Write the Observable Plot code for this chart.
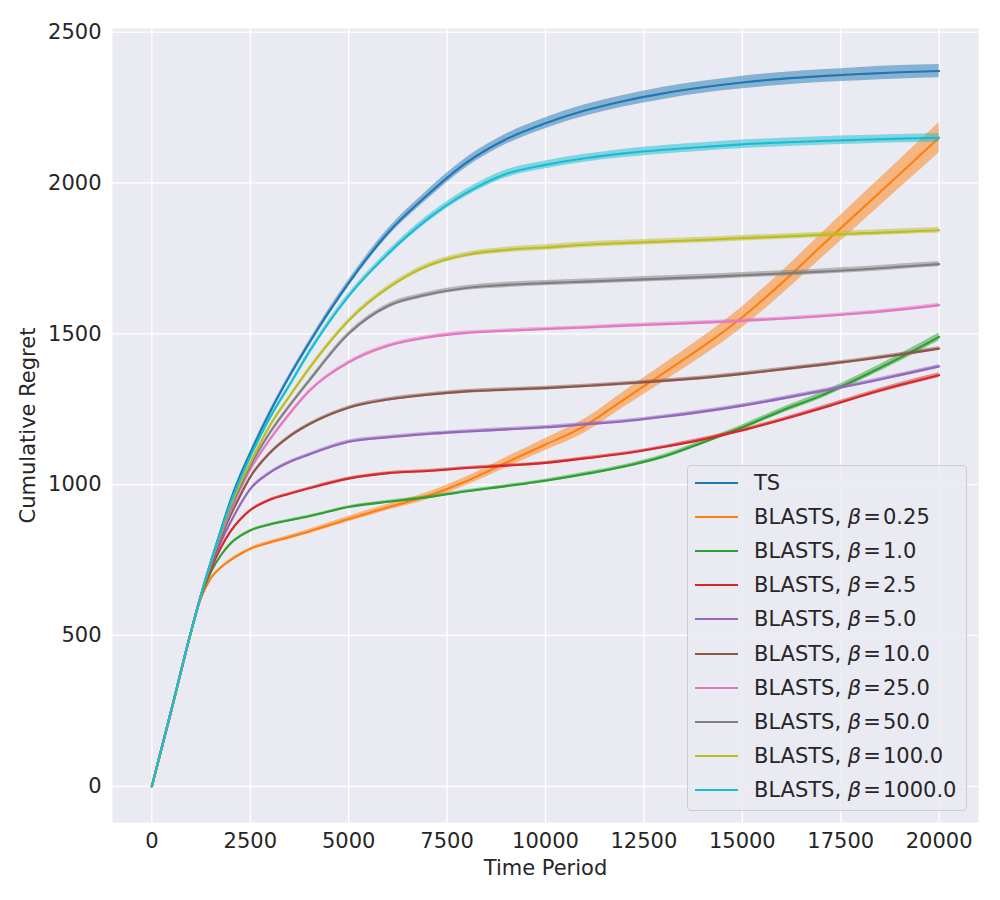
<!DOCTYPE html>
<html>
<head>
<meta charset="utf-8">
<script src="https://cdn.jsdelivr.net/npm/d3@7"></script>
<script src="https://cdn.jsdelivr.net/npm/@observablehq/plot@0.6"></script>
<style>
  html, body { margin: 0; padding: 0; background: white; }
  #wrap { position: relative; width: 1000px; height: 900px; font-family: "DejaVu Sans", sans-serif; color: #262626; }
  #legend { position: absolute; left: 687px; top: 465px; width: 280px; height: 346px; box-sizing: border-box;
    background: rgba(234,234,242,0.85); border: 1px solid #cccccc; border-radius: 4px; }
  .row { position: absolute; left: 0; height: 34px; display: flex; align-items: center; font-size: 21px; white-space: nowrap; }
  .swatch { position: absolute; left: 7px; width: 43px; height: 2px; }
  .lab { position: absolute; left: 66px; }
</style>
</head>
<body>
<div id="wrap"><div id="chart"></div><div id="legend"></div></div>
<script>
// ---- data ----
const timePeriods = [0, 500, 1000, 1250, 1500, 1750, 2000, 2250, 2500, 3000, 3500, 4000, 5000, 6000, 7000, 8000, 9000, 10000, 11000, 12000, 13000, 14000, 15000, 16000, 17000, 18000, 19000, 20000];

const seriesNames = ["TS", "BLASTS, β = 0.25", "BLASTS, β = 1.0", "BLASTS, β = 2.5", "BLASTS, β = 5.0",
  "BLASTS, β = 10.0", "BLASTS, β = 25.0", "BLASTS, β = 50.0", "BLASTS, β = 100.0", "BLASTS, β = 1000.0"];
const betaLabels = [null, "0.25", "1.0", "2.5", "5.0", "10.0", "25.0", "50.0", "100.0", "1000.0"];
const seriesColors = ["#1f77b4", "#ff7f0e", "#2ca02c", "#d62728", "#9467bd", "#8c564b", "#e377c2", "#7f7f7f", "#bcbd22", "#17becf"];

const regretTS     = [0, 255, 515, 635, 745, 848, 948, 1032, 1105, 1240, 1360, 1470, 1668, 1835, 1960, 2068, 2145, 2198, 2240, 2272, 2297, 2317, 2333, 2345, 2354, 2361, 2367, 2371];
const regretB0_25  = [0, 255, 515, 625, 690, 725, 750, 770, 787, 808, 826, 845, 886, 925, 962, 1012, 1073, 1133, 1195, 1283, 1370, 1458, 1555, 1668, 1790, 1910, 2030, 2150];
const regretB1     = [0, 255, 515, 630, 710, 765, 805, 830, 848, 868, 882, 895, 926, 943, 958, 978, 995, 1013, 1035, 1060, 1093, 1140, 1190, 1245, 1295, 1355, 1420, 1490];
const regretB2_5   = [0, 255, 515, 632, 720, 790, 845, 885, 915, 950, 970, 988, 1020, 1038, 1045, 1055, 1063, 1072, 1087, 1103, 1125, 1150, 1180, 1215, 1253, 1293, 1330, 1363];
const regretB5     = [0, 255, 515, 633, 728, 808, 875, 935, 985, 1040, 1075, 1100, 1142, 1157, 1168, 1176, 1183, 1190, 1200, 1210, 1225, 1242, 1262, 1285, 1310, 1335, 1363, 1392];
const regretB10    = [0, 255, 515, 634, 735, 822, 898, 965, 1025, 1105, 1160, 1200, 1255, 1282, 1298, 1309, 1315, 1320, 1327, 1335, 1344, 1354, 1367, 1382, 1397, 1413, 1431, 1451];
const regretB25    = [0, 255, 515, 635, 740, 830, 912, 985, 1050, 1150, 1235, 1310, 1405, 1460, 1488, 1503, 1510, 1516, 1521, 1527, 1532, 1537, 1543, 1550, 1558, 1568, 1580, 1595];
const regretB50    = [0, 255, 515, 635, 742, 836, 922, 995, 1062, 1172, 1262, 1345, 1500, 1592, 1630, 1652, 1662, 1668, 1673, 1678, 1683, 1688, 1694, 1700, 1706, 1713, 1722, 1731];
const regretB100   = [0, 255, 515, 635, 743, 840, 930, 1005, 1072, 1195, 1293, 1385, 1543, 1652, 1725, 1762, 1778, 1786, 1795, 1801, 1806, 1811, 1817, 1822, 1828, 1833, 1838, 1843];
const regretB1000  = [0, 255, 515, 635, 744, 845, 940, 1020, 1092, 1222, 1330, 1440, 1625, 1765, 1880, 1968, 2030, 2060, 2082, 2098, 2110, 2119, 2128, 2134, 2139, 2143, 2147, 2150];

// half-width of the confidence band
const bandTS     = [0, 1, 2, 3, 4, 4, 5, 5, 6, 7, 8, 9, 11, 13, 15, 16, 17, 18, 19, 19, 20, 20, 21, 21, 21, 22, 22, 22];
const bandB0_25  = [0, 1, 1, 2, 3, 3, 4, 4, 5, 6, 6, 7, 9, 10, 12, 14, 17, 20, 23, 26, 29, 32, 35, 38, 41, 44, 47, 50];
const bandB1     = [0, 1, 1, 2, 2, 2, 3, 3, 3, 4, 4, 4, 4, 5, 5, 5, 5, 5, 6, 6, 7, 7, 8, 9, 10, 11, 12, 13];
const bandB2_5   = [0, 1, 1, 2, 2, 2, 3, 3, 3, 4, 4, 4, 5, 5, 5, 5, 5, 5, 5, 5, 5, 6, 6, 6, 7, 7, 8, 8];
const bandB5     = [0, 1, 1, 2, 2, 2, 3, 3, 4, 4, 5, 5, 6, 6, 6, 6, 6, 6, 6, 6, 6, 6, 6, 6, 6, 6, 6, 6];
const bandB10    = [0, 1, 1, 2, 2, 2, 3, 3, 4, 4, 5, 5, 6, 6, 6, 6, 6, 6, 6, 6, 6, 6, 6, 6, 6, 6, 6, 6];
const bandB25    = [0, 1, 1, 2, 2, 2, 3, 3, 4, 4, 5, 5, 6, 6, 6, 6, 6, 6, 6, 6, 6, 6, 6, 6, 6, 6, 6, 6];
const bandB50    = [0, 1, 1, 2, 2, 2, 3, 3, 4, 5, 5, 6, 7, 8, 8, 8, 9, 9, 9, 9, 9, 9, 9, 9, 9, 9, 9, 9];
const bandB100   = [0, 1, 1, 2, 2, 2, 3, 3, 4, 5, 5, 6, 7, 8, 8, 8, 9, 9, 9, 9, 9, 9, 9, 9, 9, 9, 9, 9];
const bandB1000  = [0, 1, 2, 3, 3, 3, 4, 4, 5, 6, 7, 8, 9, 10, 11, 12, 13, 13, 13, 14, 14, 14, 14, 14, 14, 14, 14, 14];

const xTicks = [0, 2500, 5000, 7500, 10000, 12500, 15000, 17500, 20000];
const yTicks = [0, 500, 1000, 1500, 2000, 2500];

const seriesValues = [regretTS, regretB0_25, regretB1, regretB2_5, regretB5, regretB10, regretB25, regretB50, regretB100, regretB1000];
const seriesBands  = [bandTS, bandB0_25, bandB1, bandB2_5, bandB5, bandB10, bandB25, bandB50, bandB100, bandB1000];

const rows = [];
seriesNames.forEach((name, i) => {
  timePeriods.forEach((t, j) => {
    const v = seriesValues[i][j], b = seriesBands[i][j];
    rows.push({series: name, idx: i, t, v, lo: v - b, hi: v + b});
  });
});

const curve = "monotone-x";
const seriesMarks = [];
seriesNames.forEach((name, i) => {
  const d = rows.filter(r => r.idx === i);
  seriesMarks.push(Plot.areaY(d, {x: "t", y1: "lo", y2: "hi", fill: seriesColors[i], fillOpacity: 0.5, curve}));
  seriesMarks.push(Plot.lineY(d, {x: "t", y: "v", stroke: seriesColors[i], strokeWidth: 2.1, curve}));
});

const chart = Plot.plot({
  width: 1000,
  height: 900,
  marginLeft: 112,
  marginRight: 22,
  marginTop: 28,
  marginBottom: 78,
  style: {background: "white", fontFamily: "DejaVu Sans, sans-serif", fontSize: "21px", color: "#262626"},
  x: {domain: [-1000, 21000]},
  y: {domain: [-120, 2512]},
  marks: [
    Plot.frame({fill: "#eaeaf2", stroke: null}),
    Plot.gridX(xTicks, {stroke: "white", strokeOpacity: 1, strokeWidth: 1.3}),
    Plot.gridY(yTicks, {stroke: "white", strokeOpacity: 1, strokeWidth: 1.3}),
    Plot.axisX(xTicks, {tickSize: 0, tickPadding: 11, fontSize: 21, tickFormat: d => String(d),
      label: "Time Period", labelAnchor: "center", labelArrow: "none", labelOffset: 52}),
    Plot.axisY(yTicks, {tickSize: 0, tickPadding: 11, fontSize: 21, tickFormat: d => String(d),
      label: "Cumulative Regret", labelAnchor: "center", labelArrow: "none", labelOffset: 92}),
    ...seriesMarks
  ]
});
document.getElementById("chart").appendChild(chart);

// legend
const legend = document.getElementById("legend");
seriesNames.forEach((name, i) => {
  const row = document.createElement("div");
  row.className = "row";
  row.style.top = (0 + i * 34.1) + "px";
  const sw = document.createElement("div");
  sw.className = "swatch";
  sw.style.background = seriesColors[i];
  const lab = document.createElement("div");
  lab.className = "lab";
  if (betaLabels[i] === null) {
    lab.textContent = name;
  } else {
    lab.innerHTML = "BLASTS, <span style='font-style:italic'>β</span>&#8202;=&#8202;" + betaLabels[i];
  }
  row.appendChild(sw);
  row.appendChild(lab);
  legend.appendChild(row);
});
</script>
</body>
</html>
